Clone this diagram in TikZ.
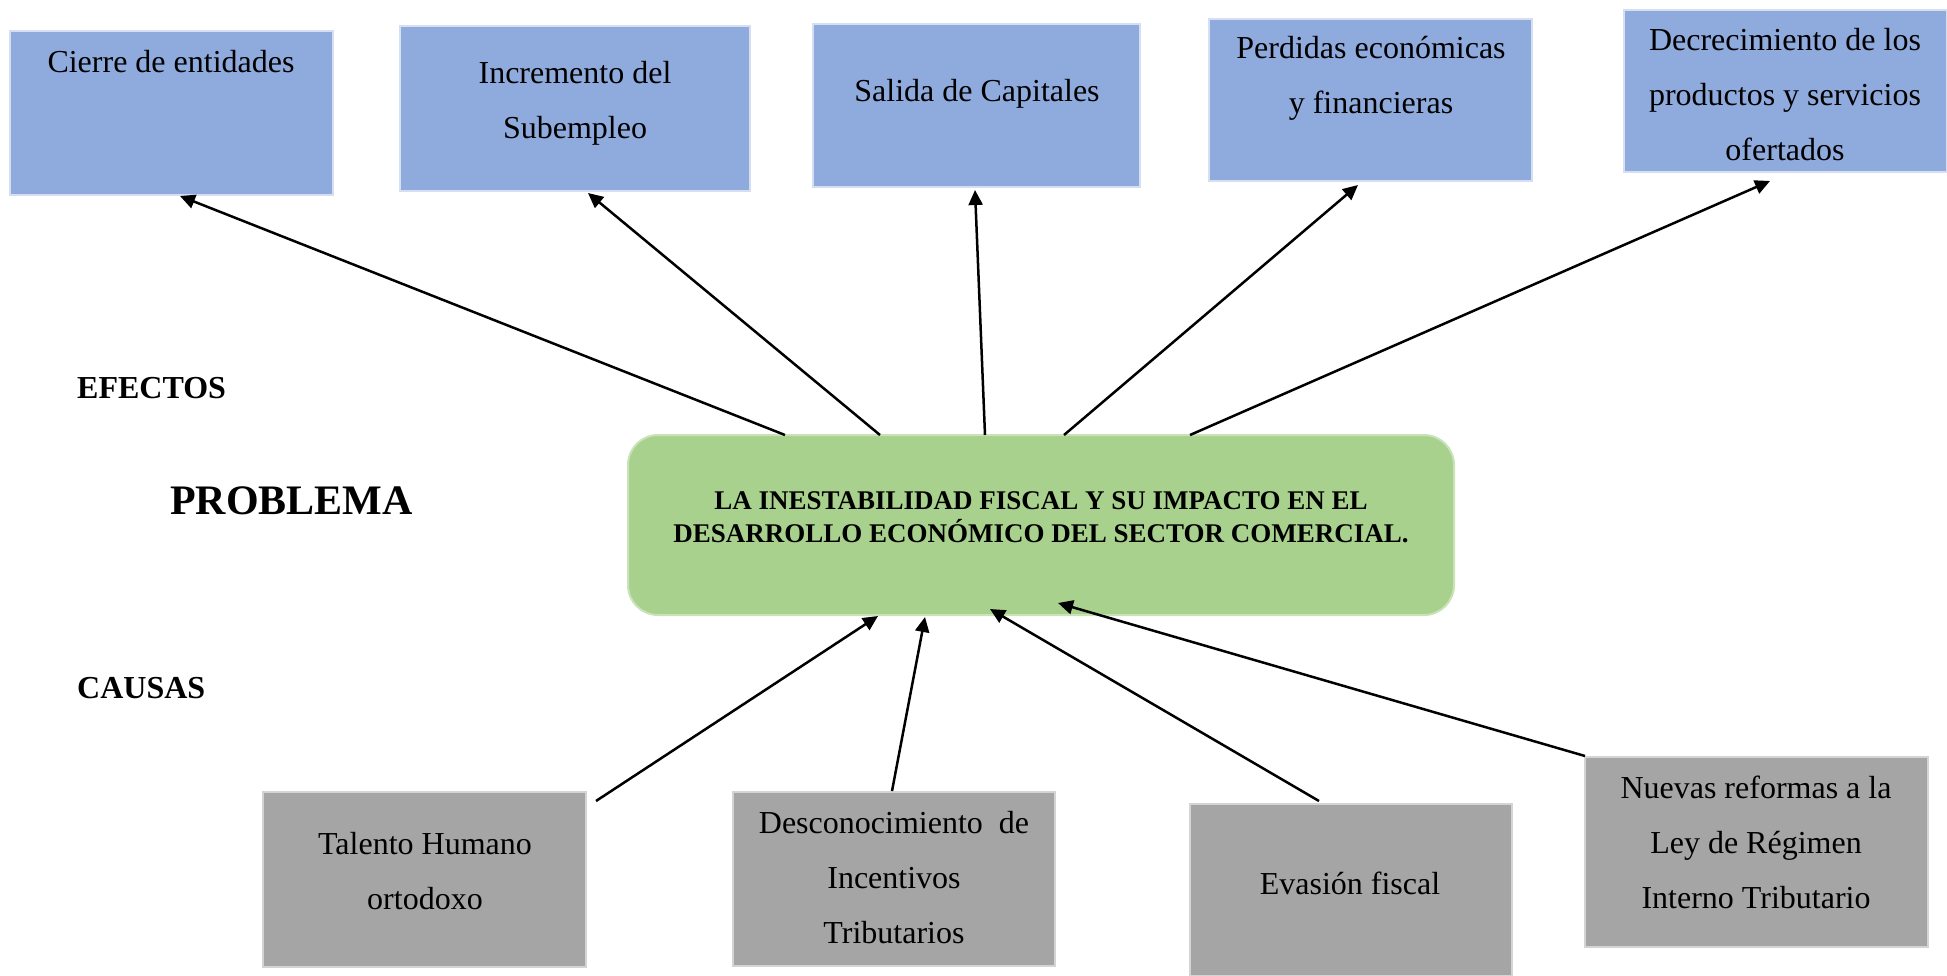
\documentclass[tikz,border=0pt]{standalone}
\usepackage{fontspec}
\setmainfont{Liberation Serif}
\usetikzlibrary{arrows.meta,calc}
\definecolor{bluefill}{HTML}{8FAADC}
\definecolor{blueline}{HTML}{D5DFF1}
\definecolor{greenfill}{HTML}{A9D18E}
\definecolor{greenline}{HTML}{C9E3B8}
\definecolor{grayfill}{HTML}{A5A5A5}
\definecolor{grayline}{HTML}{D4D4D4}
\begin{document}
\begin{tikzpicture}[x=1pt,y=-1pt,
  boxbase/.style={line width=2pt, inner sep=0pt, outer sep=0pt, anchor=north west},
  bluebox/.style={boxbase, draw=blueline, fill=bluefill},
  graybox/.style={boxbase, draw=grayline, fill=grayfill},
  greenbox/.style={boxbase, draw=greenline, fill=greenfill, rounded corners=30pt},
  txt/.style={align=center, inner sep=0pt, font=\fontsize{32}{55}\selectfont},
  titletxt/.style={align=center, inner sep=0pt, font=\fontsize{27}{29}\selectfont\bfseries},
  lbl/.style={anchor=west, inner sep=0pt, font=\fontsize{32}{38}\selectfont\bfseries},
  arr/.style={line width=2.5pt, -{Triangle[length=15pt,width=14pt]}}
]
\useasboundingbox (0,0) rectangle (1947,975);

% effect boxes
\node[bluebox, minimum width=323pt, minimum height=164pt] (cierre) at (10,31) {};
\node[bluebox, minimum width=350pt, minimum height=165pt] (incr) at (400,26) {};
\node[bluebox, minimum width=327pt, minimum height=163pt] (salida) at (813,24) {};
\node[bluebox, minimum width=323pt, minimum height=162pt] (perd) at (1209,19) {};
\node[bluebox, minimum width=323pt, minimum height=162pt] (decr) at (1624,10) {};

\node[txt] (tcierre) at (171,61.5) {\strut Cierre de entidades};
\node[txt] (tincr) at (575,100) {\strut Incremento del\\\strut Subempleo};
\node[txt] (tsalida) at (977,90.5) {\strut Salida de Capitales};
\node[txt] (tperd) at (1371,75) {\strut Perdidas económicas\\\strut y financieras};
\node[txt] (tdecr) at (1785,94.5) {\strut Decrecimiento de los\\\strut productos y servicios\\\strut ofertados};

% problem
\node[greenbox, minimum width=826pt, minimum height=180pt] (prob) at (628,435) {};
\node[titletxt] (tprob) at (1041,520) {\strut LA INESTABILIDAD FISCAL Y SU IMPACTO EN EL\\\strut DESARROLLO ECONÓMICO DEL SECTOR COMERCIAL.};

% cause boxes
\node[graybox, minimum width=323pt, minimum height=175pt] (talento) at (263,792) {};
\node[graybox, minimum width=322pt, minimum height=174pt] (desc) at (733,792) {};
\node[graybox, minimum width=322pt, minimum height=172pt] (evasion) at (1190,804) {};
\node[graybox, minimum width=343pt, minimum height=190pt] (nuevas) at (1585,757) {};

\node[txt] (ttalento) at (425,870.5) {\strut Talento Humano\\\strut ortodoxo};
\node[txt] (tdesc) at (894,877.5) {\strut Desconocimiento\ \ de\\\strut Incentivos\\\strut Tributarios};
\node[txt] (tevasion) at (1350,883.5) {\strut Evasión fiscal};
\node[txt] (tnuevas) at (1756,842.5) {\strut Nuevas reformas a la\\\strut Ley de Régimen\\\strut Interno Tributario};

% side labels
\node[lbl] (efectos) at (77,388) {EFECTOS};
\node[lbl, font=\fontsize{42}{50}\selectfont\bfseries] (problema) at (170,501) {PROBLEMA};
\node[lbl] (causas) at (77,688) {CAUSAS};

% effect arrows
\draw[arr] ($(prob.north west)+(157,0)$) -- ($(cierre.south west)+(170,1)$);
\draw[arr] ($(prob.north west)+(252,0)$) -- ($(incr.south west)+(188,2)$);
\draw[arr] ($(prob.north west)+(357,0)$) -- ($(salida.south west)+(162,3)$);
\draw[arr] ($(prob.north west)+(436,0)$) -- ($(perd.south west)+(149,4)$);
\draw[arr] ($(prob.north west)+(562,0)$) -- ($(decr.south west)+(146,9)$);

% cause arrows
\draw[arr] ($(talento.north east)+(10,9)$) -- ($(prob.south west)+(250,1)$);
\draw[arr] ($(desc.north)+(-2,-1)$) -- ($(prob.south west)+(297,2)$);
\draw[arr] ($(evasion.north west)+(129,-3)$) -- ($(prob.south west)+(362,-6)$);
\draw[arr] ($(nuevas.north west)+(0,-1)$) -- ($(prob.south west)+(430,-12)$);
\end{tikzpicture}
\end{document}
